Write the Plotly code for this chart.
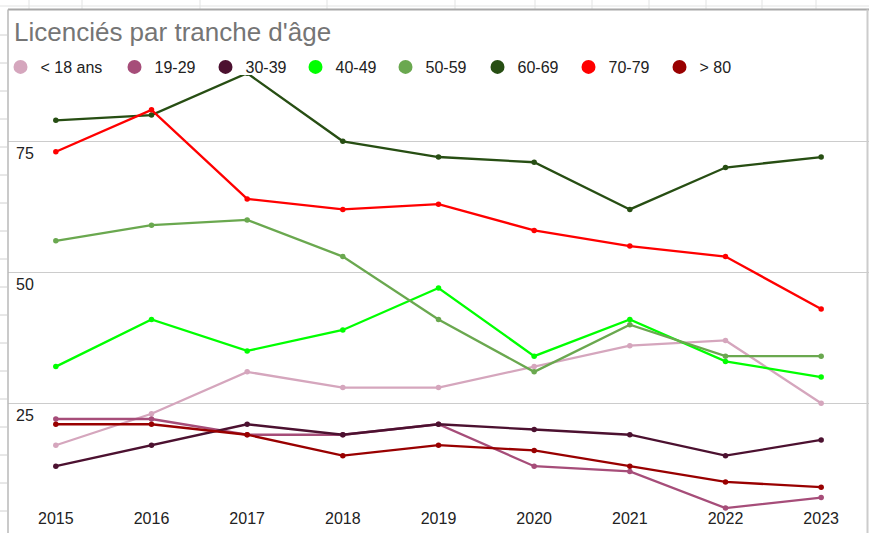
import plotly.graph_objects as go

# ---- data ----
years = ["2015", "2016", "2017", "2018", "2019", "2020", "2021", "2022", "2023"]
series_names = ["< 18 ans", "19-29", "30-39", "40-49", "50-59", "60-69", "70-79", "> 80"]
under_18 = [17, 23, 31, 28, 28, 32, 36, 37, 25]
age_19_29 = [22, 22, 19, 19, 21, 13, 12, 5, 7]
age_30_39 = [13, 17, 21, 19, 21, 20, 19, 15, 18]
age_40_49 = [32, 41, 35, 39, 47, 34, 41, 33, 30]
age_50_59 = [56, 59, 60, 53, 41, 31, 40, 34, 34]
age_60_69 = [79, 80, 88, 75, 72, 71, 62, 70, 72]
age_70_79 = [73, 81, 64, 62, 63, 58, 55, 53, 43]
over_80 = [21, 21, 19, 15, 17, 16, 13, 10, 9]
y_tick_values = [25, 50, 75]
title_text = "Licenciés par tranche d'âge"

series_values = [under_18, age_19_29, age_30_39, age_40_49,
                 age_50_59, age_60_69, age_70_79, over_80]

# ---- style ----
colors = ["#d5a6bd", "#a64d79", "#4c1130", "#00ff00",
          "#6aa84f", "#274e13", "#ff0000", "#990000"]
legend_widths = [69, 46, 45, 45, 47, 46, 46, 40]
FONT = "Liberation Sans, Arial, sans-serif"
TEXT = "#222222"

W, H = 869, 533
ML, MR, MT, MB = 8, 0, 75, 21
PW, PH = W - ML - MR, H - MT - MB
PX_PER_UNIT = 5.24
Y_MIN = 4.256
Y_MAX = Y_MIN + PH / PX_PER_UNIT


def px_x(p):
    return (p - ML) / PW


def px_y(p):
    return (H - MB - p) / PH


fig = go.Figure()

for name, vals, col in zip(series_names, series_values, colors):
    fig.add_trace(go.Scatter(
        x=years, y=vals, name=name, mode="lines+markers",
        line=dict(color=col, width=2.3),
        marker=dict(color=col, size=5.5),
        showlegend=False, legendgroup=name,
        hoverinfo="skip",
    ))

for name, col, lw in zip(series_names, colors, legend_widths):
    fig.add_trace(go.Scatter(
        x=[None], y=[None], name=name, mode="markers",
        marker=dict(color=col, size=14),
        showlegend=True, legendgroup=name, legendwidth=lw,
    ))

shapes = []
# spreadsheet grid visible around the chart
grid_col = "#e2e3e3"
for cx in [29, 82, 200, 327, 455, 535, 592, 649, 706, 762, 816]:
    shapes.append(dict(type="line", xref="paper", yref="paper",
                       x0=px_x(cx), x1=px_x(cx), y0=px_y(0), y1=px_y(9),
                       line=dict(color=grid_col, width=1), layer="below"))
shapes.append(dict(type="line", xref="paper", yref="paper",
                   x0=px_x(0), x1=px_x(W), y0=px_y(6), y1=px_y(6),
                   line=dict(color=grid_col, width=1), layer="below"))
for ry in range(35, 533, 28):
    shapes.append(dict(type="line", xref="paper", yref="paper",
                       x0=px_x(0), x1=px_x(7), y0=px_y(ry), y1=px_y(ry),
                       line=dict(color="#d0d0d0", width=1), layer="below"))
# chart box border
shapes.append(dict(type="line", xref="paper", yref="paper",
                   x0=px_x(8), x1=px_x(869), y0=px_y(9.5), y1=px_y(9.5),
                   line=dict(color="#a8a8a8", width=2)))
shapes.append(dict(type="line", xref="paper", yref="paper",
                   x0=px_x(8), x1=px_x(8), y0=px_y(9.5), y1=px_y(533),
                   line=dict(color="#b8b8b8", width=1.5)))
shapes.append(dict(type="line", xref="paper", yref="paper",
                   x0=px_x(867.5), x1=px_x(867.5), y0=px_y(9.5), y1=px_y(533),
                   line=dict(color="#cccccc", width=2)))

fig.update_layout(
    width=W, height=H,
    margin=dict(l=ML, r=MR, t=MT, b=MB, pad=0),
    paper_bgcolor="white", plot_bgcolor="white",
    font=dict(family=FONT, color=TEXT, size=16),
    title=dict(text=title_text, x=14 / W, xref="container", xanchor="left",
               y=1 - 32 / H, yref="container", yanchor="middle",
               font=dict(family=FONT, size=26, color="#757575")),
    legend=dict(orientation="h", x=px_x(0.5), xanchor="left",
                y=px_y(67), yanchor="middle",
                font=dict(family=FONT, size=16, color=TEXT),
                bgcolor="rgba(0,0,0,0)", itemclick=False, itemdoubleclick=False),
    xaxis=dict(type="category", range=[-0.5, 8.5], showgrid=False,
               showline=False, zeroline=False, ticks="",
               tickfont=dict(family=FONT, size=16, color=TEXT),
               ticklabelstandoff=-5),
    yaxis=dict(range=[Y_MIN, Y_MAX], tickvals=y_tick_values,
               showgrid=True, gridcolor="#cccccc", gridwidth=1,
               zeroline=False, showline=False, ticks="",
               ticklabelposition="inside", ticklabelshift=12,
               ticklabelstandoff=5,
               tickfont=dict(family=FONT, size=16, color=TEXT)),
    shapes=shapes,
    showlegend=True,
    hovermode=False,
)

fig.write_html("out.html",
               config={"displayModeBar": False, "staticPlot": True},
               post_script="document.body.style.margin='0';"
                           "document.body.style.padding='0';")
